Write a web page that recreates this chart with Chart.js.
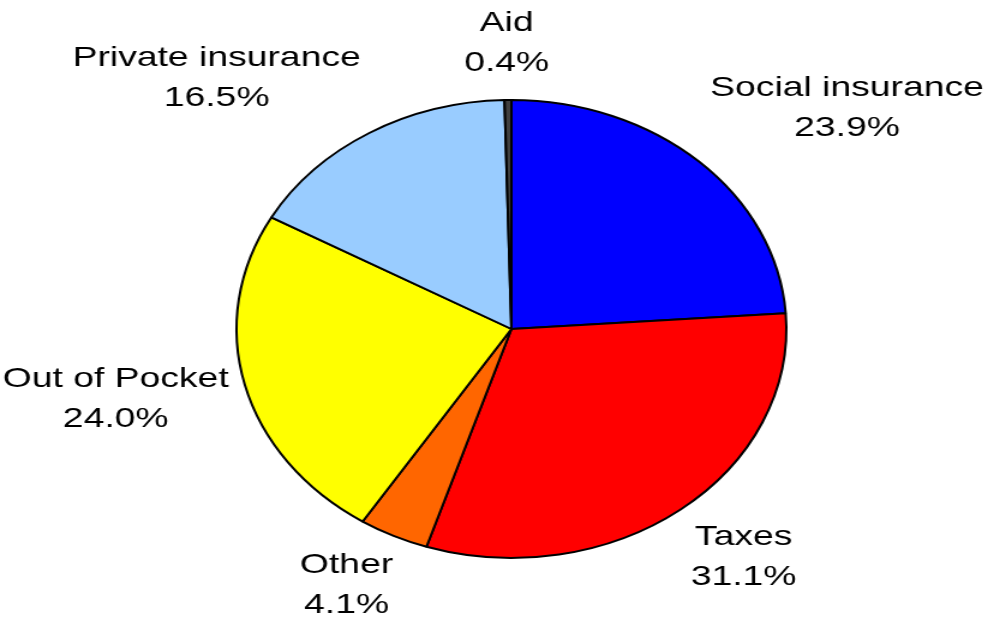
<!DOCTYPE html>
<html>
<head>
<meta charset="utf-8">
<script src="https://cdn.jsdelivr.net/npm/chart.js@4/dist/chart.umd.min.js"></script>
<style>
  html, body { margin: 0; padding: 0; background: #fff; overflow: hidden; }
  #wrap { width: 823px; height: 621px; transform: scaleX(1.2005); transform-origin: 0 0; }
  #healthChart { width: 823px; height: 621px; display: block; }
</style>
</head>
<body>
<div id="wrap"><canvas id="healthChart" width="823" height="621"></canvas></div>
<script>
const labels = ['Social insurance', 'Taxes', 'Other', 'Out of Pocket', 'Private insurance', 'Aid'];
const shares = [23.9, 31.1, 4.1, 24.0, 16.5, 0.4];
const colors = ['#0000ff', '#ff0000', '#ff6600', '#ffff00', '#99ccff', '#404040'];

// draws "name / xx.x%" outside each slice, Excel style
const outsideLabels = {
    id: 'outsideLabels',
    afterDraw(chart) {
        const ctx = chart.ctx;
        const arcs = chart.getDatasetMeta(0).data;
        const textScale = 1.09;
        const lineH = 40;
        ctx.save();
        ctx.font = '28.5px "Liberation Sans", Arial, sans-serif';
        ctx.fillStyle = '#000';
        ctx.textAlign = 'center';
        ctx.textBaseline = 'middle';
        arcs.forEach((arc, i) => {
            const lines = [labels[i], shares[i].toFixed(1) + '%'];
            const w = Math.max(...lines.map(t => ctx.measureText(t).width)) * textScale;
            const h = lineH * lines.length;
            const mid = (arc.startAngle + arc.endAngle) / 2;
            const r = arc.outerRadius * 1.06;
            const ax = arc.x + r * Math.cos(mid);
            const ay = arc.y + r * Math.sin(mid);
            const kx = Math.max(-1, Math.min(1, Math.cos(mid) * 2));
            const ky = Math.max(-1, Math.min(1, Math.sin(mid) * 1.5));
            const cx = ax + kx * w / 2;
            const cy = ay + ky * h / 2 - 3;
            lines.forEach((t, j) => {
                ctx.save();
                ctx.translate(cx, cy - h / 2 + lineH * (j + 0.5));
                ctx.scale(textScale, 1);
                ctx.fillText(t, 0, 0);
                ctx.restore();
            });
        });
        ctx.restore();
    }
};

new Chart(document.getElementById('healthChart'), {
    type: 'pie',
    data: {
        labels: labels,
        datasets: [{
            data: shares,
            backgroundColor: colors,
            borderColor: '#000',
            borderWidth: 2,
            hoverOffset: 0
        }]
    },
    options: {
        responsive: false,
        devicePixelRatio: 1,
        animation: false,
        layout: { padding: { left: 196, right: 167, top: 99, bottom: 62 } },
        plugins: {
            legend: { display: false },
            tooltip: { enabled: false }
        }
    },
    plugins: [outsideLabels]
});
</script>
</body>
</html>
